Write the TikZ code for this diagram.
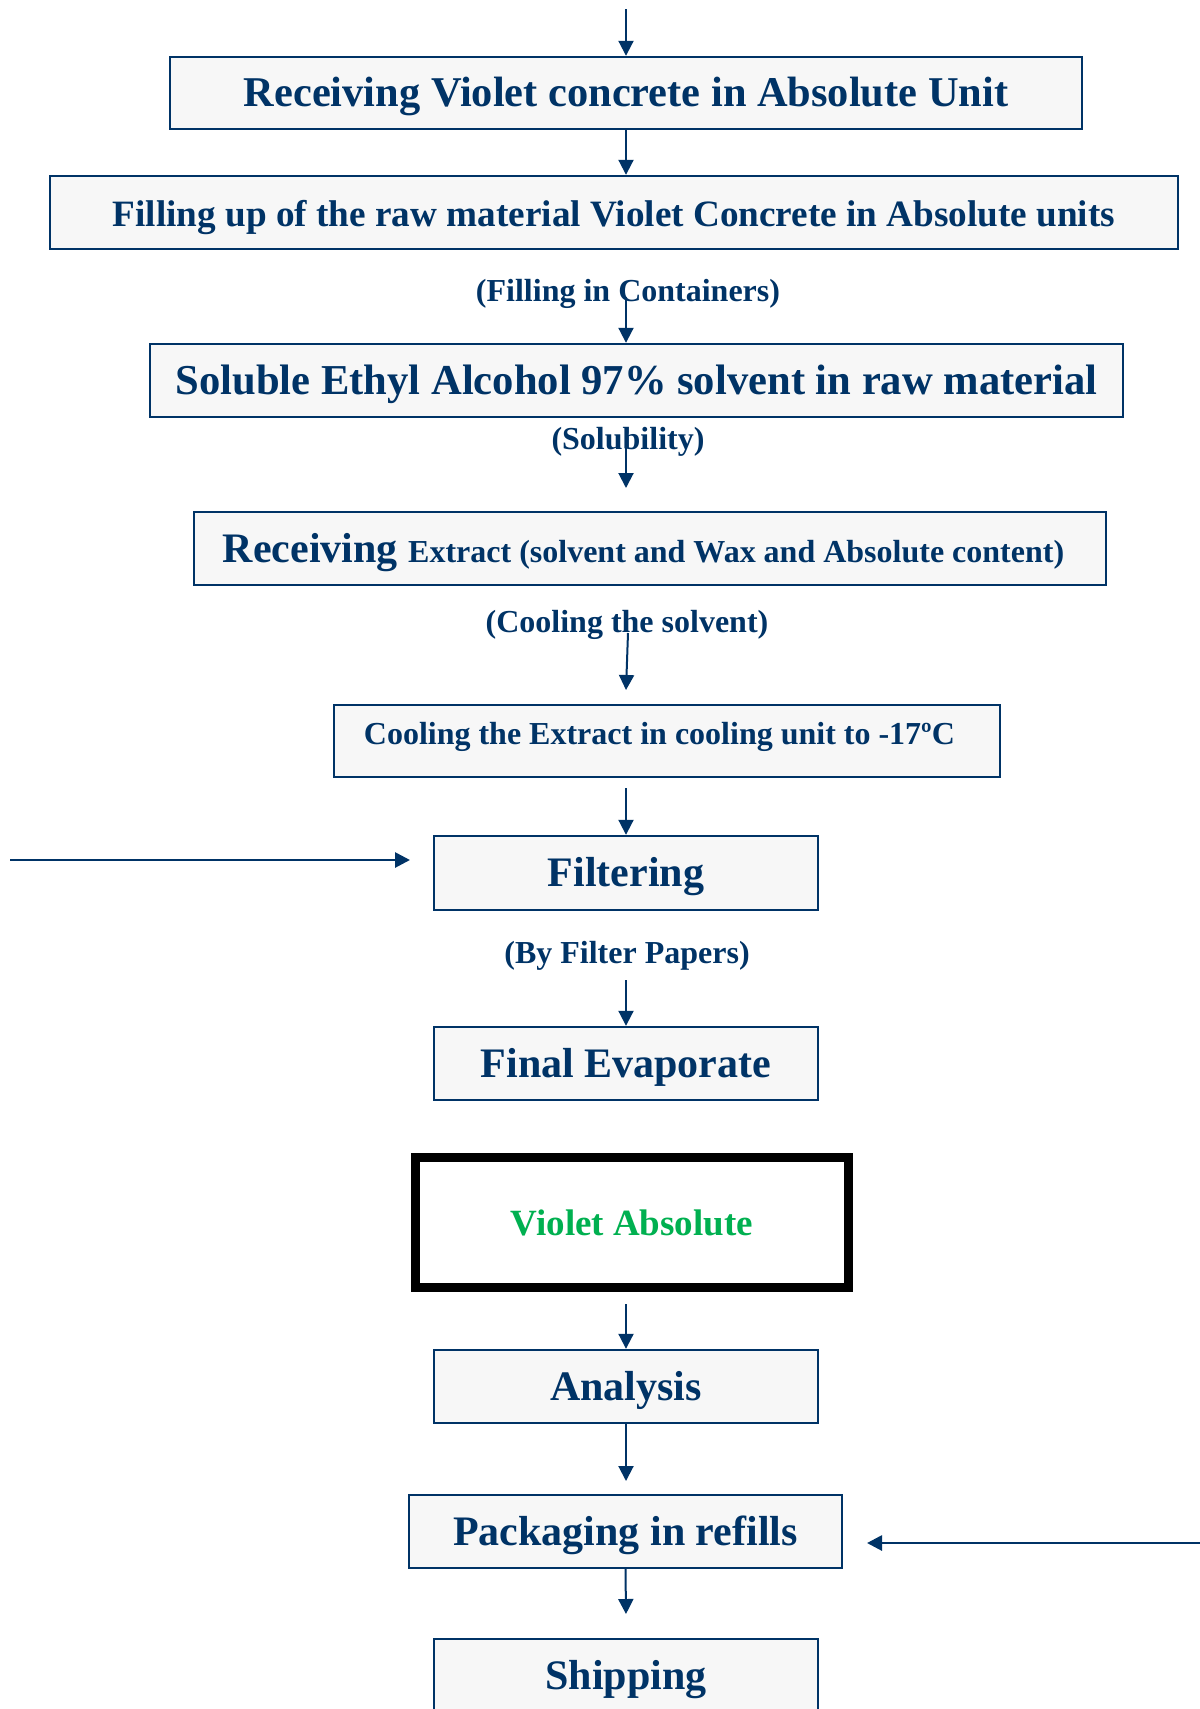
\documentclass[tikz,border=0pt]{standalone}
\usepackage{fontspec}
\setmainfont{Liberation Serif}
\usetikzlibrary{arrows.meta}
\definecolor{flowblue}{HTML}{003366}
\definecolor{boxgray}{HTML}{F7F7F7}
\definecolor{absgreen}{HTML}{00B050}
\begin{document}
\begin{tikzpicture}[x=0.5pt, y=-0.5pt,
    procbox/.style={draw=flowblue, line width=1.2pt, fill=boxgray, text=flowblue,
        font=\bfseries\fontsize{21pt}{25pt}\selectfont, inner sep=0pt, minimum height=36.5pt,
        text height=18.5pt, text depth=4.6pt},
    note/.style={text=flowblue, font=\bfseries\fontsize{16pt}{19pt}\selectfont, inner sep=0pt},
    flow/.style={draw=flowblue, line width=1pt, -{Triangle[length=7.5pt,width=7.5pt]}}]
    \path[use as bounding box, fill=white] (0,0) rectangle (1200,1709);

    % Process boxes
    \node[procbox, minimum width=456pt, minimum height=36pt, font=\bfseries\fontsize{21.2pt}{25pt}\selectfont] (recv) at (626,93) {Receiving Violet concrete in Absolute Unit};
    \node[procbox, minimum width=564pt, font=\bfseries\fontsize{18.6pt}{22pt}\selectfont] (fill) at (614,212.5) {Filling up of the raw material Violet Concrete in Absolute units};
    \node[procbox, minimum width=486.5pt, font=\bfseries\fontsize{21.3pt}{25pt}\selectfont] (solub) at (636.5,380.5) {Soluble Ethyl Alcohol 97\% solvent in raw material};
    \node[procbox, minimum width=456pt] (extract) at (650,548.5) {Receiving {\fontsize{16pt}{19pt}\selectfont Extract (solvent and Wax and Absolute content)}\hspace*{6.5pt}};
    \node[procbox, minimum width=333pt, minimum height=36pt, text height=11pt, text depth=8pt, font=\bfseries\fontsize{16pt}{19pt}\selectfont] (cool) at (667,741) {Cooling the Extract in cooling unit to -17ºC\hspace*{7.6pt}};
    \node[procbox, minimum width=192pt, minimum height=37pt] (filter) at (626,873) {Filtering};
    \node[procbox, minimum width=192pt] (evap) at (626,1063.5) {Final Evaporate};
    \node[draw=black, line width=4.5pt, fill=white, text=absgreen, minimum width=216.5pt, minimum height=65pt,
        font=\bfseries\fontsize{18.5pt}{22pt}\selectfont] (absol) at (632,1222.5) {Violet Absolute};
    \node[procbox, minimum width=192pt] (analysis) at (626,1386.5) {Analysis};
    \node[procbox, minimum width=216.5pt] (pack) at (625.5,1531.5) {Packaging in refills};
    \node[procbox, minimum width=192pt] (ship) at (626,1675.5) {Shipping};

    % Notes between steps
    \node[note] (fillnote) at (628,294) {(Filling in Containers)};
    \node[note] (solnote) at (628,442) {(Solubility)};
    \node[note] (coolnote) at (627,625) {(Cooling the solvent)};
    \node[note] (papernote) at (627,955.5) {(By Filter Papers)};

    % Loose arrow ends
    \coordinate (topin) at (626,9);
    \coordinate (fillout) at (626,297);
    \coordinate (solout) at (626,437);
    \coordinate (solend) at (626,488);
    \coordinate (coolout) at (628,633);
    \coordinate (coolend) at (626,690);
    \coordinate (filtin) at (626,788);
    \coordinate (paperout) at (626,980);
    \coordinate (absout) at (626,1304);
    \coordinate (packend) at (626,1481);
    \coordinate (shipend) at (626,1614);
    \coordinate (feedin) at (10,860);
    \coordinate (feedend) at (410,860);
    \coordinate (refillin) at (1200,1543);
    \coordinate (refillend) at (867,1543);

    % Main flow
    \draw[flow] (topin) -- (topin |- recv.north);
    \draw[flow] (recv.south) -- (recv.south |- fill.north);
    \draw[flow] (fillout) -- (fillout |- solub.north);
    \draw[flow] (solout) -- (solend);
    \draw[flow] (coolout) -- (coolend);
    \draw[flow] (filtin) -- (filtin |- filter.north);
    \draw[flow] (paperout) -- (paperout |- evap.north);
    \draw[flow] (absout) -- (absout |- analysis.north);
    \draw[flow] (analysis.south) -- (packend);
    \draw[flow] (pack.south) -- (shipend);

    % Side inputs
    \draw[flow, line width=1.4pt] (feedin) -- (feedend);
    \draw[flow, line width=1.4pt] (refillin) -- (refillend);
\end{tikzpicture}
\end{document}
